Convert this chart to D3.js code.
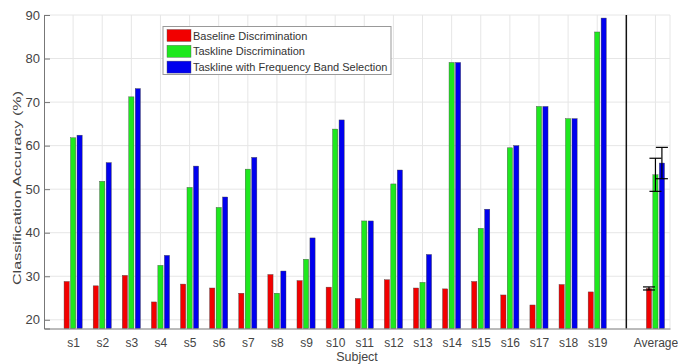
<!DOCTYPE html>
<html>
<head>
<meta charset="utf-8">
<script src="https://cdn.jsdelivr.net/npm/d3@7"></script>
<style>
  body { margin: 0; background: #fff; }
  text { font-family: "Liberation Sans", Arial, sans-serif; }
</style>
</head>
<body>
<svg id="chart"></svg>
<script>
const subjects = ['s1','s2','s3','s4','s5','s6','s7','s8','s9','s10','s11','s12','s13','s14','s15','s16','s17','s18','s19']
const baseline = [28.8, 27.8, 30.2, 24.1, 28.2, 27.3, 26.1, 30.4, 29.0, 27.5, 24.9, 29.2, 27.3, 27.1, 28.8, 25.7, 23.4, 28.1, 26.4]
const taskline = [61.8, 51.8, 71.2, 32.5, 50.4, 45.8, 54.6, 26.1, 33.9, 63.8, 42.7, 51.2, 28.6, 79.1, 41.0, 59.5, 69.0, 66.2, 86.1]
const bandSel = [62.4, 56.1, 73.1, 34.8, 55.3, 48.2, 57.3, 31.2, 38.8, 65.9, 42.7, 54.4, 35.0, 79.1, 45.4, 60.0, 69.0, 66.2, 89.3]
const avgMean = [27.2, 53.3, 56.0]
const avgErr = [0.35, 3.8, 3.6]
const seriesNames = ['Baseline Discrimination', 'Taskline Discrimination', 'Taskline with Frequency Band Selection']
const yTicks = [20, 30, 40, 50, 60, 70, 80, 90]

const w = 678, h = 364
const colors = ['#f20000', '#1ee81e', '#0000ee']

const svg = d3.select('#chart').attr('width', w).attr('height', h)

const x = d3.scaleLinear().domain([0, 21.5]).range([44, 670])
const y = d3.scaleLinear().domain([18, 90]).range([328.5, 15])

const avgPos = 21, sepPos = 20
const off = 0.2222, bw = 0.178

// grid
const grid = svg.append('g')
grid.selectAll('.gy').data(yTicks).enter().append('line')
  .attr('x1', x(0)).attr('x2', x(21.5))
  .attr('y1', d => y(d)).attr('y2', d => y(d))
  .attr('stroke', '#e6e6e6').attr('stroke-width', 1)
const xGrid = d3.range(1, 20).concat([avgPos, 21.5])
grid.selectAll('.gx').data(xGrid).enter().append('line')
  .attr('x1', d => x(d)).attr('x2', d => x(d))
  .attr('y1', y(18)).attr('y2', y(90))
  .attr('stroke', '#e6e6e6').attr('stroke-width', 1)

// bars
const rows = []
subjects.forEach((s, i) => {
  rows.push({ pos: i + 1, k: 0, v: baseline[i] })
  rows.push({ pos: i + 1, k: 1, v: taskline[i] })
  rows.push({ pos: i + 1, k: 2, v: bandSel[i] })
})
avgMean.forEach((v, k) => rows.push({ pos: avgPos, k: k, v: v, e: avgErr[k] }))

svg.append('g').selectAll('rect').data(rows).enter().append('rect')
  .attr('x', d => x(d.pos + (d.k - 1) * off - bw / 2))
  .attr('width', d => x(bw) - x(0))
  .attr('y', d => y(d.v))
  .attr('height', d => y(18) - y(d.v))
  .attr('fill', d => colors[d.k])
  .attr('stroke', '#444').attr('stroke-width', 0.4)

// error bars
const eb = svg.append('g').attr('stroke', '#000').attr('stroke-width', 1.2)
rows.filter(d => d.e !== undefined).forEach(d => {
  let cx = x(d.pos + (d.k - 1) * off)
  eb.append('line').attr('x1', cx).attr('x2', cx).attr('y1', y(d.v - d.e)).attr('y2', y(d.v + d.e))
  ;[d.v - d.e, d.v + d.e].forEach(t => {
    eb.append('line').attr('x1', cx - 6).attr('x2', cx + 6).attr('y1', y(t)).attr('y2', y(t))
  })
})

// separator
svg.append('line')
  .attr('x1', x(sepPos)).attr('x2', x(sepPos))
  .attr('y1', y(18)).attr('y2', y(90))
  .attr('stroke', '#111').attr('stroke-width', 1.5)

// axes
const yAxis = svg.append('g').attr('transform', `translate(${x(0)},0)`)
  .call(d3.axisLeft(y).tickValues(yTicks).tickSize(-6).tickPadding(4))
yAxis.select('.domain').attr('stroke', '#777')
yAxis.selectAll('.tick line').attr('stroke', '#777')
yAxis.selectAll('text').attr('font-size', 13).attr('fill', '#444')
  .attr('font-family', '"Liberation Sans", Arial, sans-serif')

const xLabels = subjects.concat(['Average'])
const xPos = d3.range(1, 20).concat([avgPos])
const xAxis = svg.append('g').attr('transform', `translate(0,${y(18)})`)
  .call(d3.axisBottom(x).tickValues(xPos).tickFormat((d, i) => xLabels[i]).tickSize(0).tickPadding(10))
xAxis.select('.domain').attr('stroke', '#777')
xAxis.selectAll('text').attr('font-size', 12).attr('fill', '#444')
  .attr('font-family', '"Liberation Sans", Arial, sans-serif')

// axis titles
svg.append('text').attr('x', x(10.75)).attr('y', 361)
  .attr('text-anchor', 'middle').attr('font-size', 12.5).attr('fill', '#444')
  .text('Subject')
svg.append('text').attr('transform', 'translate(21,188) rotate(-90)')
  .attr('text-anchor', 'middle').attr('font-size', 11.5).attr('fill', '#444')
  .attr('textLength', 194).attr('lengthAdjust', 'spacingAndGlyphs')
  .text('Classification Accuracy (%)')

// legend
const lg = svg.append('g')
lg.append('rect').attr('x', 163).attr('y', 26.5).attr('width', 228).attr('height', 48)
  .attr('fill', '#fff').attr('stroke', '#999').attr('stroke-width', 1)
seriesNames.forEach((n, i) => {
  lg.append('rect').attr('x', 167).attr('y', 29.5 + i * 15.8).attr('width', 24).attr('height', 12)
    .attr('fill', colors[i]).attr('stroke', '#555').attr('stroke-width', 0.4)
  lg.append('text').attr('x', 193).attr('y', 39.5 + i * 15.8)
    .attr('font-size', 11).attr('fill', '#333').text(n)
})
</script>
</body>
</html>
